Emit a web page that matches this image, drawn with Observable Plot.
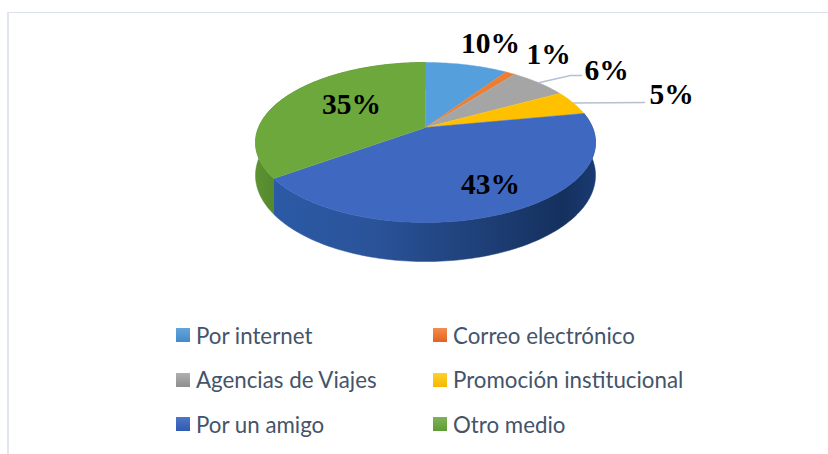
<!DOCTYPE html>
<html>
<head>
<meta charset="utf-8">
<script src="https://cdn.jsdelivr.net/npm/d3@7"></script>
<script src="https://cdn.jsdelivr.net/npm/@observablehq/plot@0.6"></script>
<style>
html,body{margin:0;padding:0;background:#fff;width:828px;height:454px;overflow:hidden}
#frame{position:absolute;left:7px;top:12px;width:821px;height:442px;border-left:2px solid #e1e5ec;border-top:1px solid #dde2ea;box-sizing:border-box}
#chart{position:absolute;left:0;top:0;width:828px;height:320px}
#chart svg{display:block}
#legend{position:absolute;left:176px;top:313px;display:grid;grid-template-columns:257px 260px;grid-auto-rows:44.6px;font:22.3px Lato,sans-serif;color:#44546a}
#legend div{display:flex;align-items:center;white-space:nowrap}
#legend i{display:inline-block;width:14px;height:14px;margin-right:6px;flex:none}
</style>
</head>
<body>
<div id="frame"></div>
<div id="chart"></div>
<div id="legend"></div>
<script>
const categories = ["Por internet","Correo electrónico","Agencias de Viajes","Promoción institucional","Por un amigo","Otro medio"];
const percents = [9.4,1.1,6.5,5,43,35];
const percentLabels = ["10%","1%","6%","5%","43%","35%"];
const faceColors = ["#559fdc","#ed7d31","#a5a5a5","#ffc000","#3f69c1","#6ca83c"];
const swatches = [["#63a5dd","#4489c9"],["#f58c52","#e0641e"],["#b0b0b0","#8e8e8e"],["#ffd02e","#f5b800"],["#4e76c9","#2f5bb0"],["#7db35a","#5f9c34"]];

// Where each percentage sits: centre of the page, perspective and label placement
const W = 828, H = 320;
const view = {cx:425, cy:127, rx:167, ry:77.2, k:0.1875, depth:31.7};
const labelSpots = [[490,43],[548,54],[606,70.5],[671,94.5],[490,184],[351,104]];
const leaders = {2:[[570,75],[581,75]], 3:[[644,102]]};

function project(pct, drop=false){
  const a = pct/100*2*Math.PI, u = Math.sin(a), v = Math.cos(a), w = 1+view.k*v;
  return {x:view.cx+view.rx*u/w, y:view.cy-view.ry*v/w+(drop?view.depth/w:0)};
}
const stops = [0,...d3.cumsum(percents)];
function arc(from,to,drop){
  const n = Math.max(2,Math.ceil((to-from)*3)), pts=[];
  for(let i=0;i<=n;i++) pts.push(project(from+(to-from)*i/n,drop));
  return pts;
}
const walls=[], faces=[];
[[5,"url(#wallGreen)"],[4,"url(#wallBlue)"]].forEach(([i,fill])=>{
  [...arc(stops[i],stops[i+1],false),...arc(stops[i],stops[i+1],true).reverse()]
    .forEach(p=>walls.push({...p,k:categories[i],fill}));
});
percents.forEach((p,i)=>{
  [{x:view.cx,y:view.cy},...arc(stops[i],stops[i+1],false)]
    .forEach(q=>faces.push({...q,k:categories[i],fill:faceColors[i]}));
});
const leaderRows=[];
Object.entries(leaders).forEach(([i,rest])=>{
  i=+i;
  [project((stops[i]+stops[i+1])/2),...rest.map(([x,y])=>({x,y}))].forEach(p=>leaderRows.push({...p,k:i}));
});
const labelRows = percentLabels.map((t,i)=>({t,x:labelSpots[i][0],y:labelSpots[i][1]}));

const defs = () => {
  const s = d3.create("svg:defs");
  const grad=(id,items)=>{
    const g=s.append("linearGradient").attr("id",id).attr("gradientUnits","userSpaceOnUse")
      .attr("x1",255).attr("x2",595).attr("y1",0).attr("y2",0);
    items.forEach(([o,c])=>g.append("stop").attr("offset",o).attr("stop-color",c));
  };
  grad("wallBlue",[[0,"#2c5ba8"],[0.35,"#2a5399"],[0.65,"#1f4079"],[0.9,"#14305e"],[1,"#1a3a70"]]);
  grad("wallGreen",[[0,"#5c9233"],[0.1,"#4f8029"]]);
  return s.node();
};

const chart = Plot.plot({
  width:W,height:H,margin:0,
  style:{background:"transparent",overflow:"visible"},
  x:{domain:[0,W],range:[0,W],axis:null},
  y:{domain:[0,H],range:[0,H],axis:null},
  color:{type:"identity"},
  marks:[
    defs,
    Plot.line(walls,{x:"x",y:"y",z:"k",fill:"fill",stroke:"fill",strokeWidth:0.5}),
    Plot.line(faces,{x:"x",y:"y",z:"k",fill:"fill",stroke:"fill",strokeWidth:0.5}),
    Plot.line(leaderRows,{x:"x",y:"y",z:"k",stroke:"#b4c1d1",strokeWidth:1.5}),
    Plot.text(labelRows,{x:"x",y:"y",text:"t",fontFamily:"Liberation Serif",fontWeight:"bold",fontSize:29.5,fill:"#000",textAnchor:"middle",lineAnchor:"middle"})
  ]
});
document.getElementById("chart").append(chart);

const legend=d3.select("#legend");
categories.forEach((c,i)=>{
  const d=legend.append("div");
  d.append("i").style("background",`linear-gradient(${swatches[i][0]},${swatches[i][1]})`);
  d.append("span").text(c);
});
</script>
</body>
</html>
